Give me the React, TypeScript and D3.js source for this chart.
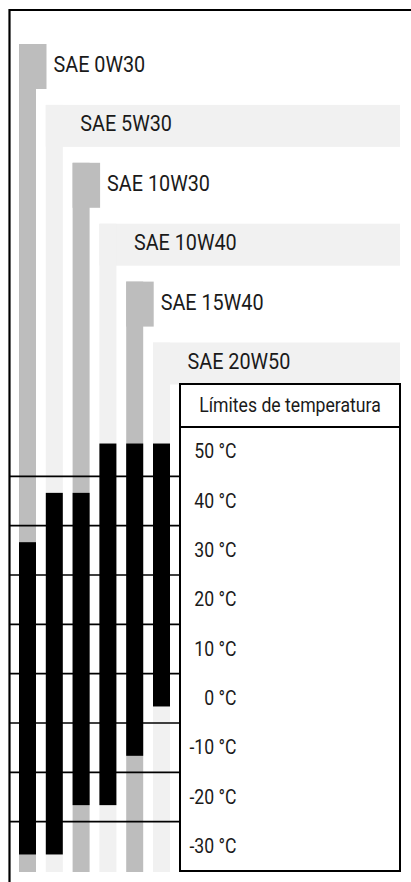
import React from "react";
import * as d3 from "d3";

const grades = ["SAE 0W30", "SAE 5W30", "SAE 10W30", "SAE 10W40", "SAE 15W40", "SAE 20W50"];
const minTemps = [-30, -30, -20, -20, -10, 0];
const maxTemps = [30, 40, 40, 50, 50, 50];
const tempTicks = [50, 40, 30, 20, 10, 0, -10, -20, -30];
const headerLabel = "Límites de temperatura";

const W = 411;
const H = 882;
const GRAY = "#bdbdbd";
const LIGHT = "#f1f1f1";
const FONT = "Roboto, 'Noto Sans', sans-serif";

function T(props: { x: number; y: number; anchor?: string; size?: number; sx?: number; children: string }) {
  return (
    <text
      transform={`translate(${props.x},${props.y}) scale(${props.sx ?? 0.84},1)`}
      textAnchor={props.anchor || "start"}
      fontFamily={FONT}
      fontSize={props.size ?? 21}
      fill="#1a1a1a"
    >
      {props.children}
    </text>
  );
}

export default function App() {
  const x = d3.scaleBand<string>().domain(grades).range([19, 170]).paddingInner(0.3657).paddingOuter(0);
  const bw = x.bandwidth();
  const y = d3.scaleLinear().domain([55, -35]).range([427, 871]);
  const rowY = d3.scalePoint<string>().domain(grades).range([66.5, 363.5]);

  const boxLeft = 180;
  const boxRight = 400;
  const boxTop = 384;
  const boxBottom = y(-35);
  const colBottom = boxBottom + 1;
  const overhang = 1.65;
  const gridTemps = d3.range(45, -30, -10);

  return (
    <svg width={W} height={H} style={{ position: "absolute", left: 0, top: 0, display: "block" }}>
      <rect x={0} y={0} width={W} height={H} fill="#fff" />
      {grades.map((g, i) => {
        const cx = x(g) as number;
        const cy = rowY(g) as number;
        const isGray = i % 2 === 0;
        if (isGray) {
          const tabTop = cy - 22.5;
          return (
            <g key={g}>
              <rect x={cx} y={tabTop} width={bw + 10.5} height={45} fill={GRAY} />
              <rect x={cx} y={tabTop} width={bw} height={colBottom - tabTop} fill={GRAY} />
            </g>
          );
        }
        const bandTop = cy - 21;
        return (
          <g key={g}>
            <rect x={cx} y={bandTop} width={boxRight - cx} height={42} fill={LIGHT} />
            <rect x={cx} y={bandTop} width={bw} height={colBottom - bandTop} fill={LIGHT} />
          </g>
        );
      })}
      {grades.map((g, i) => (
        <rect
          key={"b" + g}
          x={x(g) as number}
          y={y(maxTemps[i] + overhang)}
          width={bw}
          height={y(minTemps[i] - overhang) - y(maxTemps[i] + overhang)}
          fill="#000"
        />
      ))}
      {grades.map((g) => (
        <T key={"l" + g} x={(x(g) as number) + 34.5} y={(rowY(g) as number) + 5.5} size={22} sx={0.9}>
          {g}
        </T>
      ))}
      {gridTemps.map((t) => (
        <line key={"g" + t} x1={9} x2={boxLeft} y1={y(t)} y2={y(t)} stroke="#000" strokeWidth={1.6} />
      ))}
      <rect x={boxLeft} y={boxTop} width={boxRight - boxLeft} height={boxBottom - boxTop} fill="#fff" stroke="#000" strokeWidth={2} />
      <line x1={boxLeft} x2={boxRight} y1={y(55)} y2={y(55)} stroke="#000" strokeWidth={2} />
      <T x={(boxLeft + boxRight) / 2} y={(boxTop + y(55)) / 2 + 6} anchor="middle">
        {headerLabel}
      </T>
      {tempTicks.map((t) => (
        <T key={"t" + t} x={236.5} y={y(t) + 6.5} anchor="end">
          {`${t} °C`}
        </T>
      ))}
      <path d={`M9.5,${H} V10 H${W}`} fill="none" stroke="#000" strokeWidth={2.2} />
    </svg>
  );
}
